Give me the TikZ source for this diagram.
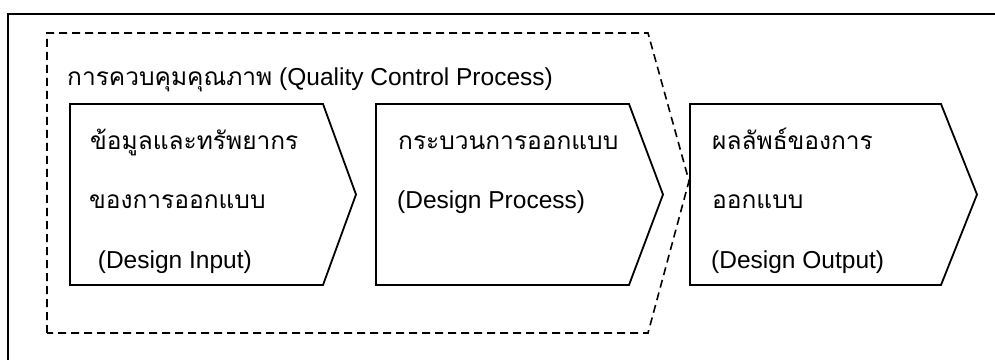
\documentclass[tikz,border=0pt]{standalone}
\usepackage{fontspec}
\setmainfont{Liberation Sans}
\newfontfamily\thaifont[Script=Thai]{Loma}
\begin{document}
\begin{tikzpicture}[x=1pt,y=1pt,
  stage/.style={draw=black,line width=1.8pt,line join=miter},
  qcframe/.style={draw=black,line width=1.6pt,dash pattern=on 8pt off 5pt},
  lbl/.style={anchor=base west,inner sep=0pt,font=\fontsize{24.5}{30}\selectfont},
  tlbl/.style={anchor=base west,inner sep=0pt,font=\fontsize{24.5}{30}\selectfont\thaifont}]
\useasboundingbox (0,0) rectangle (995,359);
\begin{scope}
  \clip (0,0) rectangle (995,359);
  % outer frame, open towards the right and bottom edges
  \draw[line width=2pt] (8,-10) -- (8,345) -- (1005,345);
\end{scope}

% quality control region
\coordinate (q1) at (47,26);
\coordinate (q2) at (47,326);
\coordinate (q3) at (648,326);
\coordinate (q4) at (689,178);
\coordinate (q5) at (648,26);
\draw[qcframe] (q1) -- (q2) -- (q3) -- (q4) -- (q5) -- cycle;

% three pentagon stages
\foreach \nm/\l/\r/\t in {in/70/323/356, pr/376/629/663, out/690/941/977}{
  \coordinate (\nm-a) at (\l,255);
  \coordinate (\nm-b) at (\r,255);
  \coordinate (\nm-c) at (\t,164.5);
  \coordinate (\nm-d) at (\r,74);
  \coordinate (\nm-e) at (\l,74);
  \draw[stage] (\nm-a) -- (\nm-b) -- (\nm-c) -- (\nm-d) -- (\nm-e) -- cycle;
}

% labels
\node[lbl] (title) at (67,273) {{\thaifont การควบคุมคุณภาพ} (Quality Control Process)};

\node[tlbl] (in1) at (90,209) {ข้อมูลและทรัพยากร};
\node[tlbl] (in2) at (89,150) {ของการออกแบบ};
\node[lbl] (in3) at (97.7,91) {(Design Input)};

\node[tlbl] (pr1) at (398,209) {กระบวนการออกแบบ};
\node[lbl] (pr2) at (397,150) {(Design Process)};

\node[tlbl] (out1) at (712,209) {ผลลัพธ์ของการ};
\node[tlbl] (out2) at (712,150) {ออกแบบ};
\node[lbl] (out3) at (711,91) {(Design Output)};
\end{tikzpicture}
\end{document}
